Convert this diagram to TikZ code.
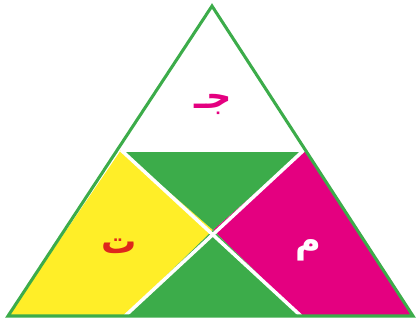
\documentclass[tikz,border=0pt]{standalone}
\usepackage{xcolor}
\usepackage{fontspec}
\usepackage{tikz}
\usetikzlibrary{calc}
\TeXXeTstate=1
\newfontfamily\arabicfont[Script=Arabic]{DejaVu Sans}
\definecolor{trigreen}{RGB}{60,172,74}
\definecolor{triyellow}{RGB}{255,238,40}
\definecolor{trimagenta}{RGB}{228,0,128}
\definecolor{trired}{RGB}{222,38,28}

\begin{document}
\begin{tikzpicture}[
            x=0.03cm, y=-0.03cm,
            every node/.style={font=\arabicfont\bfseries\fontsize{30}{32}\selectfont},
            edge/.style={draw=trigreen, line width=2.6pt, line join=miter},
            gap/.style={draw=white, line width=3pt},
        ]
            \useasboundingbox (0,0) rectangle (417,328);
            % corners of the big triangle
            \coordinate (apex) at (212,6);
            \coordinate (left) at (8,316);
            \coordinate (right) at (413,316);
            % dividing points
            \coordinate (sideL) at (121,150);
            \coordinate (sideR) at (304,150);
            \coordinate (mid) at (213,230);
            \coordinate (baseL) at (125,316);
            \coordinate (baseR) at (301,316);

            \fill[triyellow] (sideL) -- (mid) -- (baseL) -- (left) -- cycle;
            \fill[trimagenta] (sideR) -- (right) -- (baseR) -- (mid) -- cycle;
            \fill[trigreen] (sideL) -- (sideR) -- (mid) -- cycle;
            \fill[trigreen] (mid) -- (baseR) -- (baseL) -- cycle;

            \draw[gap] (sideL) -- (baseR);
            \draw[gap] (sideR) -- (baseL);
            \draw[gap] (sideL) -- (sideR);
            \draw[edge] (apex) -- (left) -- (right) -- cycle;

            \node[text=trimagenta] (jim) at (213,104) {\beginR جـ\endR};
            \node[text=trired] (ta) at (119,246) {\beginR ت\endR};
            \node[text=white] (mim) at (308,250) {\beginR م\endR};
        \end{tikzpicture}
\end{document}
